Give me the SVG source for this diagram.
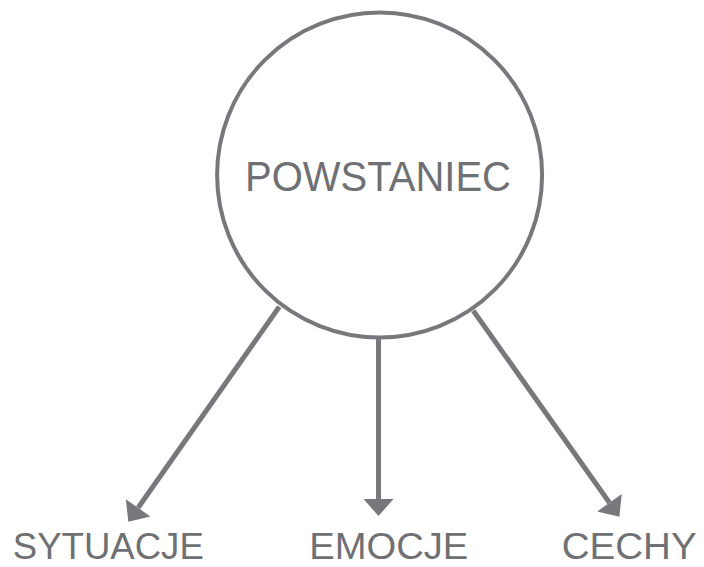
<svg xmlns="http://www.w3.org/2000/svg" width="704" height="567" viewBox="0 0 704 567">
<style>
.node circle{fill:#ffffff;stroke:#77787b;stroke-width:4}
.lbl{font-family:"Liberation Sans","DejaVu Sans",sans-serif;fill:#6f7073;text-anchor:middle}
.conn line{stroke:#77787b;stroke-width:5;fill:none}
</style>
<defs>
<marker id="ah" markerUnits="userSpaceOnUse" markerWidth="18" markerHeight="30" refX="0" refY="15" orient="auto" overflow="visible">
<path d="M0,0 L17,15 L0,30 Z" fill="#77787b"/>
</marker>
</defs>
<rect width="704" height="567" fill="#ffffff"/>
<g id="connectors" class="conn">
<line x1="279.3" y1="306.7" x2="138.1" y2="507.8" marker-end="url(#ah)"/>
<line x1="378.5" y1="339" x2="378.5" y2="499" marker-end="url(#ah)"/>
<line x1="473.3" y1="310.7" x2="609.5" y2="502.8" marker-end="url(#ah)"/>
</g>
<g id="powstaniec" class="node">
<circle cx="379.6" cy="175" r="162.5"/>
<text class="lbl" x="378" y="190.7" font-size="42" textLength="266" lengthAdjust="spacingAndGlyphs">POWSTANIEC</text>
</g>
<g id="sytuacje">
<text class="lbl" x="108.3" y="559.3" font-size="36" textLength="191" lengthAdjust="spacingAndGlyphs">SYTUACJE</text>
</g>
<g id="emocje">
<text class="lbl" x="388.8" y="559.3" font-size="36" textLength="159" lengthAdjust="spacingAndGlyphs">EMOCJE</text>
</g>
<g id="cechy">
<text class="lbl" x="629.2" y="559.3" font-size="36" textLength="135" lengthAdjust="spacingAndGlyphs">CECHY</text>
</g>
</svg>
